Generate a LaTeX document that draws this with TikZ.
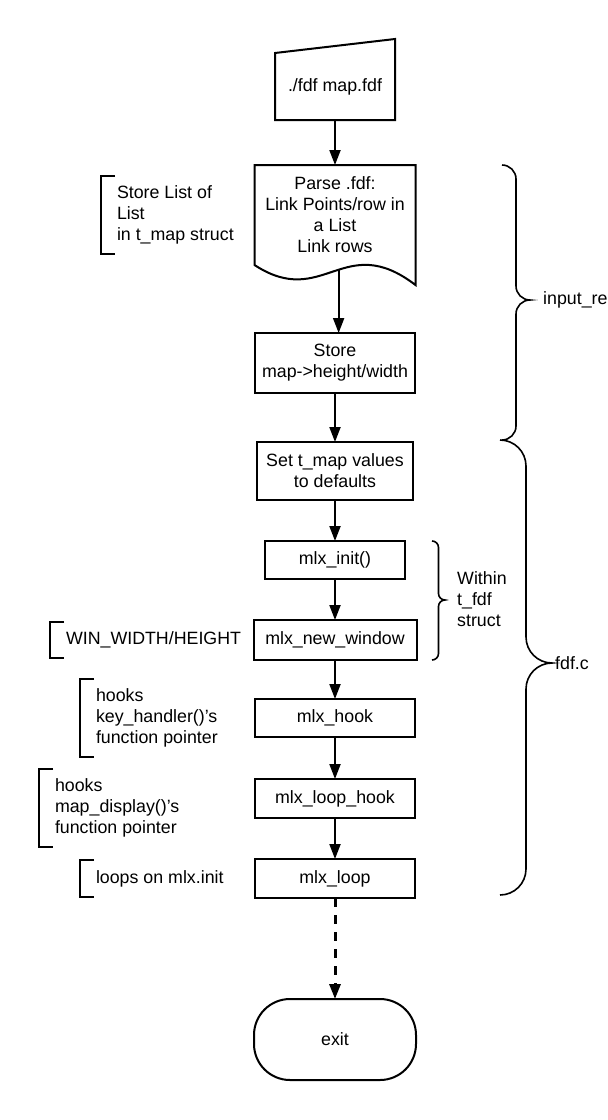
\documentclass[tikz,border=0pt]{standalone}
\usepackage{fontspec}
\setmainfont{Liberation Sans}
\usetikzlibrary{positioning,arrows.meta,calc}
\tikzset{
  basefont/.style  = {font=\fontsize{17.8}{21}\selectfont},
  procbox/.style   = {shape=rectangle, draw, line width=2pt, align=center,
                      basefont, minimum width=160pt, minimum height=39pt,
                      inner sep=2pt, outer sep=0pt},
  inputbox/.style  = {procbox, draw=none, minimum width=120pt, minimum height=67pt},
  docbox/.style    = {procbox, draw=none, minimum width=161pt, minimum height=100pt},
  termbox/.style   = {procbox, rounded corners=36pt, minimum width=162pt,
                      minimum height=81pt},
  note/.style      = {basefont, align=left, anchor=west, inner xsep=16pt,
                      inner ysep=10pt, outer sep=0pt},
  tag/.style       = {basefont, align=left, anchor=west, inner sep=0pt},
  flow/.style      = {->, line width=2pt},
  outline/.style   = {line width=2pt, line join=miter},
  bracket/.style   = {line width=2pt},
  braceline/.style = {line width=1.6pt}
}
% curly brace opening to the right: x, top, tip, bottom, radius
\newcommand{\sidebrace}[5]{%
  \draw[braceline] (#1,#2) arc[start angle=90,end angle=0,radius=#5]
    -- ({#1+#5},{#3+#5}) arc[start angle=180,end angle=270,radius=#5]
    arc[start angle=90,end angle=180,radius=#5]
    -- ({#1+#5},{#4+#5}) arc[start angle=0,end angle=-90,radius=#5];}

\begin{document}
\begin{tikzpicture}[>={Triangle[length=15pt,width=11pt]}, x=1pt, y=1pt]
\useasboundingbox (0,0) rectangle (608,-1120);

% main flow
\node [inputbox] (run) at (335,-86.5) {./fdf map.fdf};
\node [docbox, below=45pt of run] (parse) {Parse .fdf:\\Link Points/row in\\a List\\Link rows};
\node [procbox, below=68pt of parse, minimum height=60pt] (store) {Store\\map->height/width};
\node [procbox, below=49pt of store, minimum width=156pt, minimum height=58pt] (defaults) {Set t\_map values\\to defaults};
\node [procbox, below=41pt of defaults, minimum width=140pt, minimum height=38pt] (init) {mlx\_init()};
\node [procbox, below=41pt of init, minimum width=163pt, minimum height=40pt] (newwin) {mlx\_new\_window};
\node [procbox, below=39pt of newwin, minimum height=38pt] (hook) {mlx\_hook};
\node [procbox, below=42pt of hook] (loophook) {mlx\_loop\_hook};
\node [procbox, below=41pt of loophook] (loop) {mlx\_loop};
\node [termbox, below=101pt of loop] (exit) {exit};

% special outlines
\draw [outline] (run.south west) -- (run.south east) -- ([yshift=14pt]run.north east)
   -- (run.north west) -- cycle;
\draw [outline] (parse.south west) -- (parse.north west) -- (parse.north east)
   -- ([yshift=-20pt]parse.south east) .. controls +(-72,55) and +(69,-45) .. (parse.south west) -- cycle;
\path ([yshift=-20pt]parse.south east) .. controls +(-72,55) and +(69,-45) .. (parse.south west)
   coordinate[pos=0.465] (parseout);

% connectors
\draw [flow] (run) -- (parse);
\draw [flow] (parseout) -- (parseout |- store.north);
\draw [flow] (store) -- (defaults);
\draw [flow] (defaults) -- (init);
\draw [flow] (init) -- (newwin);
\draw [flow] (newwin) -- (hook);
\draw [flow] (hook) -- (loophook);
\draw [flow] (loophook) -- (loop);
\draw [flow, line width=3pt, dash pattern=on 9pt off 8pt] (loop) -- (exit);

% side notes
\node [note] (storelist) at (101,0 |- parse) {Store List of\\List\\in t\_map struct};
\node [note] (winsize) at (50,0 |- newwin) {WIN\_WIDTH/HEIGHT};
\node [note] (keyhook) at (80,0 |- hook) {hooks\\key\_handler()'s\\function pointer};
\node [note] (drawhook) at (39,-808) {hooks\\map\_display()'s\\function pointer};
\node [note] (loopnote) at (80,0 |- loop) {loops on mlx.init};
\draw [bracket] ([xshift=14pt]storelist.north west) -- (storelist.north west)
   -- (storelist.south west) -- ([xshift=14pt]storelist.south west);
\draw [bracket] ([xshift=14pt]winsize.north west) -- (winsize.north west)
   -- (winsize.south west) -- ([xshift=14pt]winsize.south west);
\draw [bracket] ([xshift=14pt]keyhook.north west) -- (keyhook.north west)
   -- (keyhook.south west) -- ([xshift=14pt]keyhook.south west);
\draw [bracket] ([xshift=14pt]drawhook.north west) -- (drawhook.north west)
   -- (drawhook.south west) -- ([xshift=14pt]drawhook.south west);
\draw [bracket] ([xshift=14pt]loopnote.north west) -- (loopnote.north west)
   -- (loopnote.south west) -- ([xshift=14pt]loopnote.south west);

% braces and file names
\sidebrace{432}{-541}{-600}{-660}{6.5}
\node [tag] (within) at (457,-599) {Within\\t\_fdf\\struct};
\sidebrace{502}{-165}{-300}{-440}{14}
\node [tag] (inputfile) at (543,-300) {input\_re};
\sidebrace{500}{-440}{-663}{-895}{26}
\node [tag] (fdffile) at (555,-663) {fdf.c};
\end{tikzpicture}
\end{document}
